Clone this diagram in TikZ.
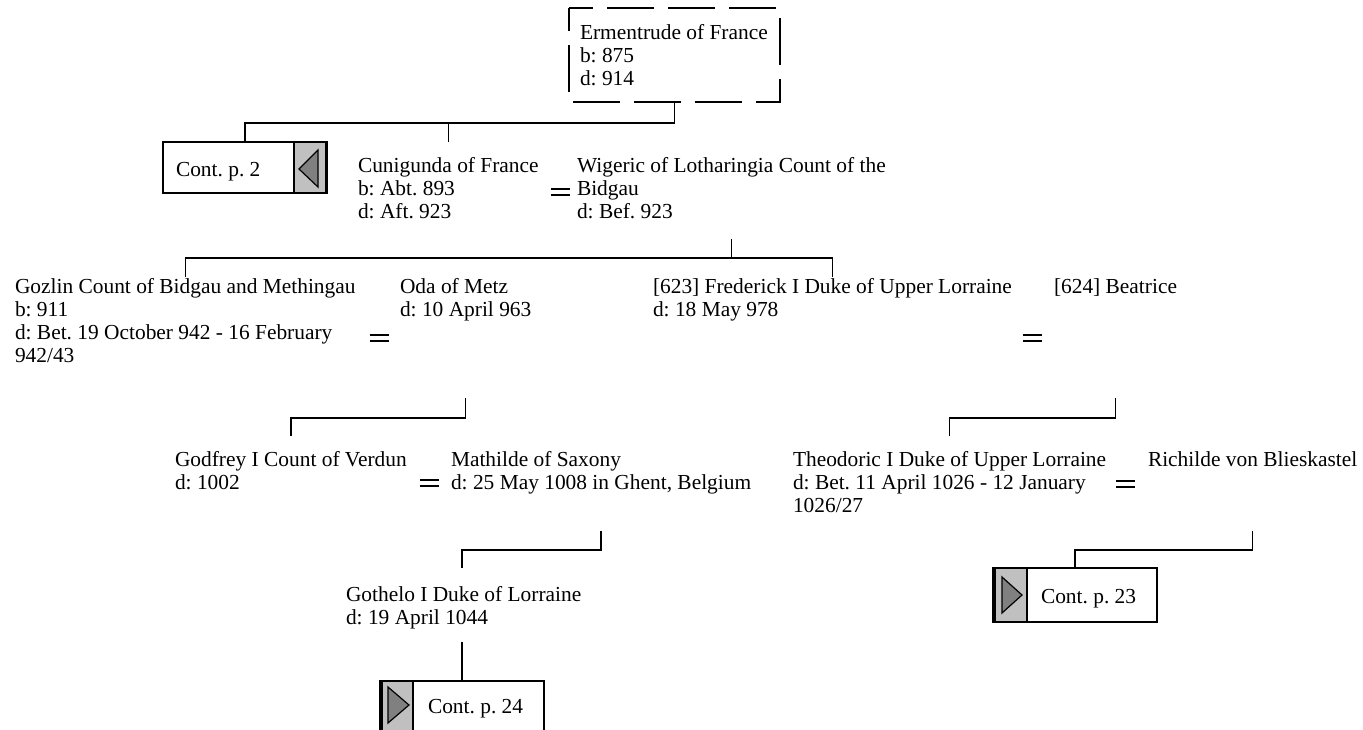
\documentclass[tikz,border=0pt]{standalone}
\usepackage{fontspec}
\setmainfont{Liberation Serif}
\definecolor{contgrey}{HTML}{C0C0C0}
\definecolor{trigrey}{HTML}{808080}
\begin{document}
\frenchspacing
\begin{tikzpicture}[x=1pt,y=-1pt,
  every node/.style={inner sep=0pt, outer sep=0pt, font=\fontsize{21.4}{23}\selectfont\frenchspacing},
  txt/.style={anchor=base west},
  conn/.style={line width=1.4pt},
  dboxnode/.style={minimum width=211pt, minimum height=94pt, anchor=north west},
  dline/.style={line width=1.4pt, dash pattern=on 47pt off 14pt, dash phase=23pt},
  contbox/.style={draw, line width=1.4pt, fill=white, minimum width=164pt, anchor=north west},
  greypart/.style={fill=contgrey, draw=black, line width=1.2pt},
  tri/.style={fill=trigrey, draw=black, line width=1.2pt, line join=miter},
  marr/.pic={\draw[line width=1.7pt] (-9.5,-2.8) -- (9.5,-2.8) (-9.5,2.8) -- (9.5,2.8);}
]
\useasboundingbox (0,0) rectangle (1363,729);
\clip (0,0) rectangle (1363,729);

% levels
\coordinate (b1) at (0,123);
\coordinate (t1) at (0,142);
\coordinate (s2) at (0,239);
\coordinate (b2) at (0,258);
\coordinate (t2) at (0,277);
\coordinate (s3) at (0,398);
\coordinate (b3) at (0,418);
\coordinate (t3) at (0,436);
\coordinate (s4) at (0,531);
\coordinate (b4) at (0,550);
\coordinate (s5) at (0,642);

% generation 1
\node[dboxnode] (erm) at (569,8) {};
\draw[dline] (erm.north west) -- (erm.north east) -- (erm.south east) -- (erm.south west) -- cycle;
\node[txt] (ermt) at (580,39) {\vtop{\hbox{Ermentrude of France}\hbox{b: 875}\hbox{d: 914}}};

% Cont. p. 2
\node[contbox, minimum height=51pt] (c2) at (163,142) {};
\path[greypart] (c2.north east) rectangle ++(-33,51);
\draw[line width=3pt] ([xshift=-1pt]c2.north east) -- ([xshift=-1pt]c2.south east);
\draw[line width=2pt] (c2.south west) -- (c2.south east);
\path[tri] (318,150) -- (318,187) -- (299,169) -- cycle;
\node[txt] (c2t) at (176,176) {Cont. p. 2};

% generation 2
\node[txt] (cuni) at (358,172) {\vtop{\hbox{Cunigunda of France}\hbox{b: Abt. 893}\hbox{d: Aft. 923}}};
\pic at (560.5,192) {marr};
\node[txt] (wig) at (577,172) {\vtop{\hbox{Wigeric of Lotharingia Count of the}\hbox{Bidgau}\hbox{d: Bef. 923}}};

% generation 3
\node[txt] (goz) at (15,293) {\vtop{\hbox{Gozlin Count of Bidgau and Methingau}\hbox{b: 911}\hbox{d: Bet. 19 October 942 - 16 February}\hbox{942/43}}};
\pic at (379,338) {marr};
\node[txt] (oda) at (400,293) {\vtop{\hbox{Oda of Metz}\hbox{d: 10 April 963}}};
\node[txt] (fred) at (653,293) {\vtop{\hbox{[623] Frederick I Duke of Upper Lorraine}\hbox{d: 18 May 978}}};
\pic at (1032.5,338) {marr};
\node[txt] (bea) at (1054,293) {[624] Beatrice};

% generation 4
\node[txt] (godf) at (175,466) {\vtop{\hbox{Godfrey I Count of Verdun}\hbox{d: 1002}}};
\pic at (429,483) {marr};
\node[txt] (math) at (451,466) {\vtop{\hbox{Mathilde of Saxony}\hbox{d: 25 May 1008 in Ghent, Belgium}}};
\node[txt] (theo) at (793,466) {\vtop{\hbox{Theodoric I Duke of Upper Lorraine}\hbox{d: Bet. 11 April 1026 - 12 January}\hbox{1026/27}}};
\pic at (1125.5,484) {marr};
\node[txt] (rich) at (1148,466) {Richilde von Blieskastel};

% generation 5
\node[txt] (goth) at (346,601) {\vtop{\hbox{Gothelo I Duke of Lorraine}\hbox{d: 19 April 1044}}};

% Cont. p. 23
\node[contbox, minimum height=54pt] (c23) at (993,568) {};
\path[greypart] (c23.north west) rectangle ++(34,54);
\draw[line width=3pt] ([xshift=1pt]c23.north west) -- ([xshift=1pt]c23.south west);
\draw[line width=2pt] (c23.south west) -- (c23.south east);
\path[tri] (1002,577) -- (1002,613) -- (1022,595) -- cycle;
\node[txt] (c23t) at (1041,603) {Cont. p. 23};

% Cont. p. 24
\node[contbox, minimum height=56pt] (c24) at (380,681) {};
\path[greypart] (c24.north west) rectangle ++(33,56);
\draw[line width=3pt] ([xshift=1pt]c24.north west) -- ([xshift=1pt]c24.south west);
\path[tri] (388,687) -- (388,723) -- (409,705) -- cycle;
\node[txt] (c24t) at (428,713) {Cont. p. 24};

% connectors
\draw[conn] (erm.south) -- (erm.south |- b1) -| (c2.north);
\draw[conn] (cuni.north |- b1) -- (cuni.north |- t1);
\draw[conn] (wig.south |- s2) -- (wig.south |- b2);
\draw[conn] (goz.north |- t2) -- (goz.north |- b2) -- (fred.north |- b2) -- (fred.north |- t2);
\draw[conn] (oda.south |- s3) -- (oda.south |- b3) -| (godf.north |- t3);
\draw[conn] (bea.south |- s3) -- (bea.south |- b3) -| (theo.north |- t3);
\draw[conn] (math.south |- s4) -- (math.south |- b4) -| (c24.north |- c23.north);
\draw[conn] (rich.south |- s4) -- (rich.south |- b4) -| (c23.north);
\draw[conn] (c24.north |- s5) -- (c24.north);
\end{tikzpicture}
\end{document}
